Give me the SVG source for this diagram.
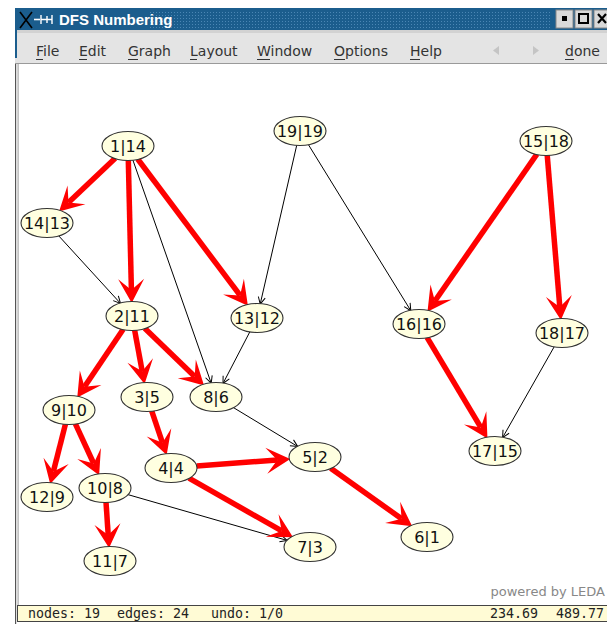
<svg xmlns="http://www.w3.org/2000/svg" width="607" height="624" viewBox="0 0 607 624">
<defs>
  <pattern id="dots" x="0" y="0" width="3" height="3" patternUnits="userSpaceOnUse">
    <rect width="3" height="3" fill="#1b5d8d"/>
    <rect x="0" y="0" width="1" height="1" fill="#4a86b4"/>
  </pattern>
  <marker id="ra" markerUnits="userSpaceOnUse" markerWidth="26" markerHeight="28" refX="11" refY="0" orient="auto" style="overflow:visible">
    <path d="M24,0 L0,-13 L11,0 L0,13 Z" fill="#ff0000"/>
  </marker>
  <marker id="ba" markerUnits="userSpaceOnUse" markerWidth="8" markerHeight="8" refX="0" refY="0" orient="auto" style="overflow:visible">
    <path d="M-7,-3.5 L0,0 L-7,3.5" fill="none" stroke="#000" stroke-width="1"/>
  </marker>
</defs>
<style>
  .node ellipse { fill: #ffffe0; stroke: #333; stroke-width: 1.1; }
  .node text { font-family: "DejaVu Sans", sans-serif; font-size: 16px; fill: #111; text-anchor: middle; }
  .tree { stroke: #ff0000; stroke-width: 5.5; fill: none; marker-end: url(#ra); }
  .other { stroke: #000; stroke-width: 1; fill: none; marker-end: url(#ba); }
  .menu { font-family: "DejaVu Sans", sans-serif; font-size: 14px; fill: #333; }
  .ul { stroke: #333; stroke-width: 1; }
  .status { font-family: "DejaVu Sans Mono", monospace; font-size: 13.3px; fill: #222; }
</style>
<rect width="607" height="624" fill="#ffffff"/>

<!-- window chrome -->
<g id="titlebar">
  <rect x="15" y="8" width="592" height="22" fill="#1b5d8d"/>
  <rect x="150" y="10" width="402" height="18" fill="url(#dots)"/>
  <path d="M20,12 Q26,20 32,28 M32,12 Q26,20 20,28" stroke="#000" stroke-width="1.6" fill="none"/>
  <path d="M34,19.5 H40" stroke="#fff" stroke-width="1.6"/>
  <path d="M41,15 V24 M41,19.5 H52 M47,16 V23 M52,15 V24" stroke="#fff" stroke-width="1.4" fill="none"/>
  <text x="59" y="25" font-family="Liberation Sans, sans-serif" font-weight="bold" font-size="15" fill="#ffffff">DFS Numbering</text>
  <rect x="556" y="10" width="17" height="18" fill="#d9d9d9" stroke="#888"/>
  <rect x="562" y="16" width="5" height="5" fill="#000"/>
  <rect x="575" y="10" width="17" height="18" fill="#d9d9d9" stroke="#888"/>
  <rect x="579" y="14" width="9" height="9" fill="none" stroke="#000" stroke-width="2"/>
  <rect x="594" y="10" width="17" height="18" fill="#d9d9d9" stroke="#888"/>
  <path d="M598,14 L606,23 M606,14 L598,23" stroke="#000" stroke-width="2.2"/>
</g>
<g id="menubar">
  <rect x="15" y="30" width="592" height="34" fill="#e4e4e4"/>
  <rect x="15" y="30" width="592" height="3" fill="#d2d2d2"/>
  <line x1="15" y1="63.5" x2="607" y2="63.5" stroke="#9a9a9a"/>
  <rect x="15" y="8" width="2" height="50" fill="#1b5d8d"/>
  <text class="menu" x="36" y="56">File</text><line class="ul" x1="36" y1="59.5" x2="43" y2="59.5"/>
  <text class="menu" x="79" y="56">Edit</text><line class="ul" x1="79" y1="59.5" x2="87" y2="59.5"/>
  <text class="menu" x="128" y="56">Graph</text><line class="ul" x1="128" y1="59.5" x2="138" y2="59.5"/>
  <text class="menu" x="190" y="56">Layout</text><line class="ul" x1="190" y1="59.5" x2="197" y2="59.5"/>
  <text class="menu" x="257" y="56">Window</text><line class="ul" x1="257" y1="59.5" x2="270" y2="59.5"/>
  <text class="menu" x="334" y="56">Options</text><line class="ul" x1="334" y1="59.5" x2="345" y2="59.5"/>
  <text class="menu" x="410" y="56">Help</text><line class="ul" x1="410" y1="59.5" x2="420" y2="59.5"/>
  <polygon points="499,46 493,50.5 499,55" fill="#c4c4c4"/>
  <polygon points="533,46 539,50.5 533,55" fill="#c4c4c4"/>
  <text class="menu" x="565" y="56">done</text><line class="ul" x1="565" y1="59.5" x2="574" y2="59.5"/>
</g>
<g id="frame">
  <rect x="15" y="64" width="1.2" height="560" fill="#555"/>
  <rect x="17.5" y="64" width="1.2" height="541" fill="#aaa"/>
</g>

<!-- connectors -->
<g id="connectors">
  <line class="other" x1="58.5" y1="235.6" x2="120.5" y2="303.4"/>
  <line class="other" x1="132.8" y1="159.8" x2="211.2" y2="383.2"/>
  <line class="other" x1="296.8" y1="144.9" x2="260.2" y2="304.1"/>
  <line class="other" x1="308.2" y1="144.3" x2="410.8" y2="310.7"/>
  <line class="other" x1="250" y1="331.5" x2="223" y2="383.5"/>
  <line class="other" x1="233.3" y1="407.5" x2="297.7" y2="446.5"/>
  <line class="other" x1="127.9" y1="494.6" x2="287.1" y2="540.4"/>
  <line class="other" x1="554.4" y1="346.4" x2="502.6" y2="437.6"/>

  <line class="tree" x1="115.2" y1="158.2" x2="68.5" y2="202.5"/>
  <line class="tree" x1="128.3" y1="160" x2="131.4" y2="290"/>
  <line class="tree" x1="137.7" y1="159" x2="240.1" y2="295.4"/>
  <line class="tree" x1="123.2" y1="329.2" x2="84.5" y2="386.8"/>
  <line class="tree" x1="134.6" y1="329.9" x2="142.2" y2="371.3"/>
  <line class="tree" x1="144.7" y1="328.2" x2="194.7" y2="376.5"/>
  <line class="tree" x1="65.5" y1="423.9" x2="53.4" y2="471.5"/>
  <line class="tree" x1="75.3" y1="423.6" x2="93.7" y2="463.5"/>
  <line class="tree" x1="106" y1="502" x2="108.2" y2="535"/>
  <line class="tree" x1="151.7" y1="410.8" x2="162.5" y2="442.8"/>
  <line class="tree" x1="196.7" y1="466" x2="277.3" y2="459.9"/>
  <line class="tree" x1="188.9" y1="478.2" x2="281.7" y2="530.9"/>
  <line class="tree" x1="330.7" y1="468.2" x2="401.6" y2="518.8"/>
  <line class="tree" x1="536.9" y1="154.1" x2="434.9" y2="301"/>
  <line class="tree" x1="547.2" y1="155" x2="559.8" y2="307"/>
  <line class="tree" x1="427" y1="337.3" x2="480.8" y2="427.4"/>
</g>

<!-- nodes -->
<g id="n1_14" class="node"><ellipse cx="128" cy="146" rx="26" ry="14.5"/><text x="128" y="151.5">1|14</text></g>
<g id="n14_13" class="node"><ellipse cx="47" cy="223" rx="26" ry="14.5"/><text x="47" y="228.5">14|13</text></g>
<g id="n2_11" class="node"><ellipse cx="132" cy="316" rx="26" ry="14.5"/><text x="132" y="321.5">2|11</text></g>
<g id="n13_12" class="node"><ellipse cx="257" cy="318" rx="26" ry="14.5"/><text x="257" y="323.5">13|12</text></g>
<g id="n19_19" class="node"><ellipse cx="300" cy="131" rx="26" ry="14.5"/><text x="300" y="136.5">19|19</text></g>
<g id="n15_18" class="node"><ellipse cx="546" cy="141" rx="26" ry="14.5"/><text x="546" y="146.5">15|18</text></g>
<g id="n16_16" class="node"><ellipse cx="419" cy="324" rx="26" ry="14.5"/><text x="419" y="329.5">16|16</text></g>
<g id="n18_17" class="node"><ellipse cx="562" cy="333" rx="26" ry="14.5"/><text x="562" y="338.5">18|17</text></g>
<g id="n9_10" class="node"><ellipse cx="69" cy="410" rx="26" ry="14.5"/><text x="69" y="415.5">9|10</text></g>
<g id="n3_5" class="node"><ellipse cx="147" cy="397" rx="26" ry="14.5"/><text x="147" y="402.5">3|5</text></g>
<g id="n8_6" class="node"><ellipse cx="216" cy="397" rx="26" ry="14.5"/><text x="216" y="402.5">8|6</text></g>
<g id="n4_4" class="node"><ellipse cx="171" cy="468" rx="26" ry="14.5"/><text x="171" y="473.5">4|4</text></g>
<g id="n12_9" class="node"><ellipse cx="47" cy="497" rx="26" ry="14.5"/><text x="47" y="502.5">12|9</text></g>
<g id="n10_8" class="node"><ellipse cx="105" cy="488" rx="26" ry="14.5"/><text x="105" y="493.5">10|8</text></g>
<g id="n11_7" class="node"><ellipse cx="110" cy="561" rx="26" ry="14.5"/><text x="110" y="566.5">11|7</text></g>
<g id="n5_2" class="node"><ellipse cx="315" cy="457" rx="26" ry="14.5"/><text x="315" y="462.5">5|2</text></g>
<g id="n7_3" class="node"><ellipse cx="310" cy="547" rx="26" ry="14.5"/><text x="310" y="552.5">7|3</text></g>
<g id="n6_1" class="node"><ellipse cx="427" cy="537" rx="26" ry="14.5"/><text x="427" y="542.5">6|1</text></g>
<g id="n17_15" class="node"><ellipse cx="495" cy="451" rx="26" ry="14.5"/><text x="495" y="456.5">17|15</text></g>

<!-- footer -->
<text x="605" y="596" font-family="DejaVu Sans, sans-serif" font-size="13" fill="#888" text-anchor="end">powered by LEDA</text>
<g id="statusbar">
  <rect x="17.5" y="605.5" width="595" height="16" fill="#fffbd5" stroke="#444" stroke-width="1"/>
  <text class="status" x="28" y="618">nodes: 19</text>
  <text class="status" x="117" y="618">edges: 24</text>
  <text class="status" x="211" y="618">undo: 1/0</text>
  <text class="status" x="490" y="618">234.69</text>
  <text class="status" x="556" y="618">489.77</text>
</g>
</svg>
